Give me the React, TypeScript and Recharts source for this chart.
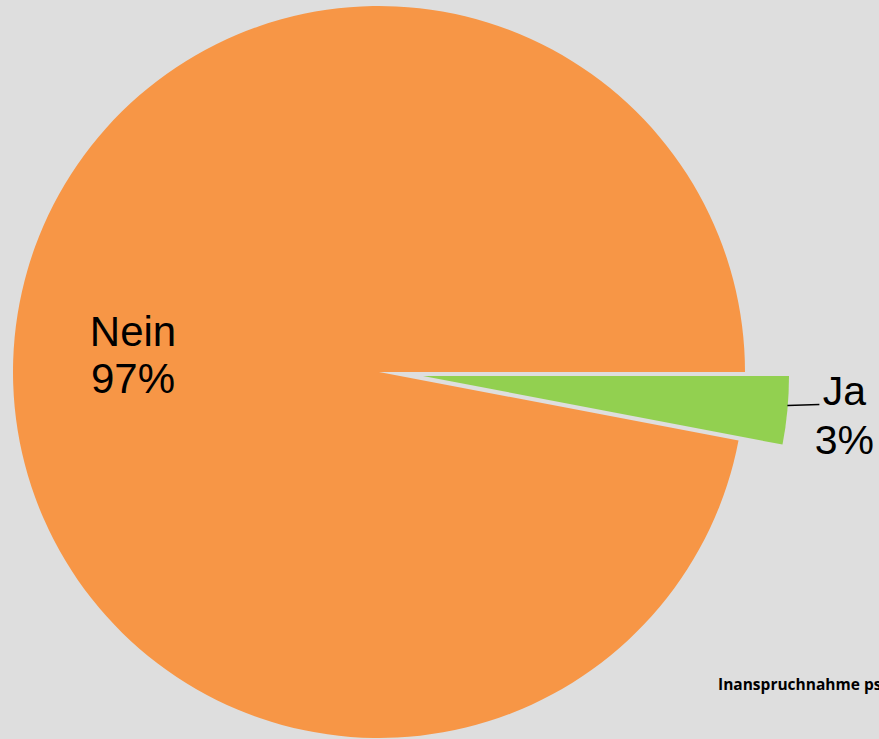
import React from 'react';
import { PieChart, Pie, Cell } from 'recharts';

const categories = ['Ja', 'Nein'];
const values = [3, 97];
const percentLabels = ['3%', '97%'];
const colors = ['#92D050', '#F79646'];
const footnote = 'Inanspruchnahme psychologischer Hilfe';

const data = categories.map((name, i) => ({ name, value: values[i], pct: percentLabels[i] }));

const RAD = Math.PI / 180;
const W = 879;
const H = 739;
const CX = 379;
const CY = 372;
const R = 366;
const EX = 44;

const neinLabel = (props: any) => {
  const { cx, cy, midAngle, outerRadius, index } = props;
  if (index !== 1) return null;
  const r = outerRadius * 0.675;
  const x = cx + r * Math.cos(-midAngle * RAD);
  const y = cy + r * Math.sin(-midAngle * RAD);
  return (
    <text x={x} y={y} textAnchor="middle" fontFamily="Liberation Sans, Arial, sans-serif" fontSize={42} fill="#000">
      <tspan x={x} dy={-3}>{data[index].name}</tspan>
      <tspan x={x} dy={47}>{data[index].pct}</tspan>
    </text>
  );
};

const jaLabel = (props: any) => {
  const { cx, cy, midAngle, outerRadius, index } = props;
  if (index !== 0) return null;
  const x0 = cx + outerRadius * Math.cos(-midAngle * RAD);
  const y0 = cy + outerRadius * Math.sin(-midAngle * RAD) - 5;
  const x1 = x0 + 32;
  return (
    <g>
      <line x1={x0} y1={y0} x2={x1} y2={y0 - 1} stroke="#000" strokeWidth={1.5} />
      <text x={x1 + 25} y={y0} textAnchor="middle" fontFamily="Liberation Sans, Arial, sans-serif" fontSize={41} fill="#000">
        <tspan x={x1 + 25} dy={0}>{data[index].name}</tspan>
        <tspan x={x1 + 25} dy={49}>{data[index].pct}</tspan>
      </text>
    </g>
  );
};

export default function App() {
  return (
    <div style={{ position: 'fixed', left: 0, top: 0, width: W, height: H, background: '#DEDEDE', overflow: 'hidden' }}>
      <PieChart width={W} height={H} margin={{ top: 0, right: 0, bottom: 0, left: 0 }}>
        <Pie
          data={data}
          dataKey="value"
          cx={CX}
          cy={CY}
          outerRadius={R}
          startAngle={0}
          endAngle={-360}
          stroke="none"
          isAnimationActive={false}
          label={neinLabel}
          labelLine={false}
        >
          {data.map((d, i) => (
            <Cell key={d.name} fill={i === 1 ? colors[1] : 'transparent'} />
          ))}
        </Pie>
        <Pie
          data={data}
          dataKey="value"
          cx={CX + EX}
          cy={CY + 4}
          outerRadius={R}
          startAngle={0}
          endAngle={-360}
          stroke="none"
          isAnimationActive={false}
          label={jaLabel}
          labelLine={false}
        >
          {data.map((d, i) => (
            <Cell key={d.name} fill={i === 0 ? colors[0] : 'transparent'} />
          ))}
        </Pie>
        <text x={718} y={690} fontFamily="Open Sans, sans-serif" fontWeight="bold" fontSize={15.5} fill="#000">
          {footnote}
        </text>
      </PieChart>
    </div>
  );
}
